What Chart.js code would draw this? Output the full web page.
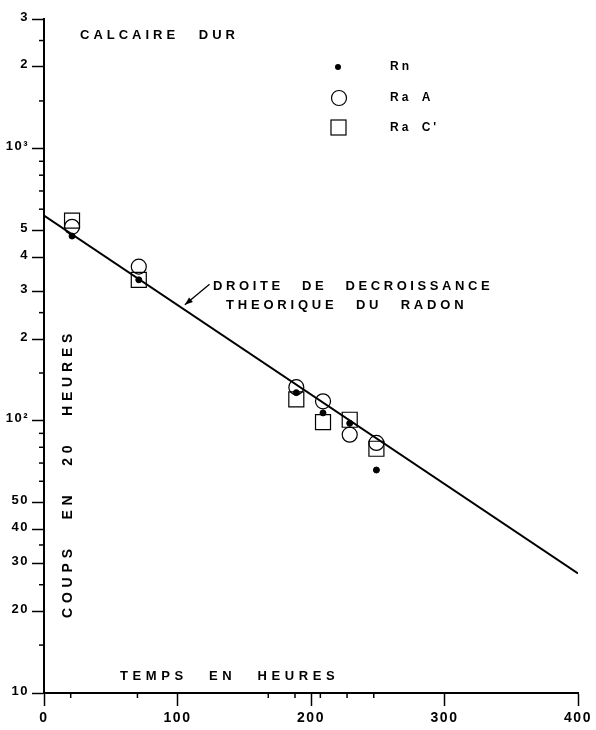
<!DOCTYPE html>
<html>
<head>
<meta charset="utf-8">
<script src="https://cdn.jsdelivr.net/npm/chart.js@4.4.1/dist/chart.umd.min.js"></script>
<style>
html,body{margin:0;padding:0;background:#fff;}
#wrap{width:596px;height:730px;}
</style>
</head>
<body>
<div id="wrap"><canvas id="c" width="596" height="730"></canvas></div>
<script>
// Radon decay measurements - hard limestone

const HOURS=[21,71,189,209,229,249];
const RN=[478,330,127,107,98,66];
const RA_A=[517,369,133,118,89,83];
const RA_C=[545,330,120,99,101,79];
const LINE_HOURS=[0,400];
const LINE_COUNTS=[568,27.5];

const X_TICKS=[0,20,70,100,168,188,200,207,227,247,300,400];
const X_LABELS=['0','','','100','','','200','','','','300','400'];
const Y_TICKS=[10,15,20,25,30,35,40,50,60,70,80,90,100,150,200,250,300,400,500,600,700,800,900,1000,1500,2000,2500,3000];
const Y_LABELS=['10','','20','','30','','40','50','','','','','10²','','2','','3','4','5','','','','','10³','','2','','3'];

const FONT='"Liberation Sans", Arial, sans-serif';
Chart.defaults.font.family=FONT;
Chart.defaults.color='#000';

function spaced(ctx,text,x,y,size,ls,ws){
  ctx.font='bold '+size+'px '+FONT;
  ctx.letterSpacing=ls+'px';
  ctx.wordSpacing=ws+'px';
  ctx.textAlign='left';ctx.textBaseline='middle';
  ctx.fillText(text,x,y);
}

const spacing={id:'spacing',
  beforeLayout(chart){chart.ctx.letterSpacing='1.5px';},
  beforeDraw(chart){chart.ctx.letterSpacing='1.5px';}
};

const decor={id:'decor',
  afterDraw(chart){
    const ctx=chart.ctx,xs=chart.scales.x,ys=chart.scales.y;
    ctx.save();
    ctx.strokeStyle='#000';ctx.fillStyle='#000';ctx.lineWidth=1.5;
    // minor tick marks
    xs.ticks.forEach(t=>{if(t.label!=='')return;const px=xs.getPixelForValue(t.value);
      ctx.beginPath();ctx.moveTo(px,ys.bottom);ctx.lineTo(px,ys.bottom+5);ctx.stroke();});
    ys.ticks.forEach(t=>{if(t.label!=='')return;const py=ys.getPixelForValue(t.value);
      ctx.beginPath();ctx.moveTo(xs.left,py);ctx.lineTo(xs.left-5,py);ctx.stroke();});
    // texts
    spaced(ctx,'CALCAIRE DUR',80,35,13,4,12);
    spaced(ctx,'DROITE DE DECROISSANCE',213,286,13,3.6,11);
    spaced(ctx,'THEORIQUE DU RADON',226,305,13,3.8,11);
    spaced(ctx,'TEMPS EN HEURES',120,676,13,4.6,13);
    ctx.save();ctx.translate(68,618);ctx.rotate(-Math.PI/2);
    spaced(ctx,'COUPS EN 20 HEURES',0,0,14,4.8,16);
    ctx.restore();
    // arrow
    const x0=xs.getPixelForValue(124),y0=ys.getPixelForValue(318);
    const x1=xs.getPixelForValue(105.5),y1=ys.getPixelForValue(267);
    ctx.lineWidth=1.3;ctx.beginPath();ctx.moveTo(x0,y0);ctx.lineTo(x1,y1);ctx.stroke();
    const a=Math.atan2(y1-y0,x1-x0);
    ctx.beginPath();ctx.moveTo(x1,y1);
    ctx.lineTo(x1-8*Math.cos(a)+3*Math.sin(a),y1-8*Math.sin(a)-3*Math.cos(a));
    ctx.lineTo(x1-8*Math.cos(a)-3*Math.sin(a),y1-8*Math.sin(a)+3*Math.cos(a));
    ctx.closePath();ctx.fill();
    // legend
    ctx.lineWidth=1.2;
    ctx.beginPath();ctx.arc(338,67,3,0,Math.PI*2);ctx.fill();
    ctx.beginPath();ctx.arc(339,98,7.5,0,Math.PI*2);ctx.stroke();
    ctx.strokeRect(331,120,15,15);
    spaced(ctx,'Rn',390,67,12,3,4);
    spaced(ctx,'Ra A',390,98,12,3,4);
    spaced(ctx,"Ra C'",390,128,12,3,4);
    ctx.restore();
  }
};

const pts=ys=>HOURS.map((h,i)=>({x:h,y:ys[i]}));

new Chart(document.getElementById('c'),{
  data:{datasets:[
    {type:'line',data:LINE_HOURS.map((h,i)=>({x:h,y:LINE_COUNTS[i]})),borderColor:'#000',borderWidth:2,pointRadius:0,fill:false,tension:0},
    {type:'scatter',data:pts(RN),pointStyle:'circle',pointRadius:3,backgroundColor:'#000',borderColor:'#000',borderWidth:1},
    {type:'scatter',data:pts(RA_A),pointStyle:'circle',pointRadius:7.5,backgroundColor:'rgba(0,0,0,0)',borderColor:'#000',borderWidth:1.2},
    {type:'scatter',data:pts(RA_C),pointStyle:'rect',pointRadius:10.6,backgroundColor:'rgba(0,0,0,0)',borderColor:'#000',borderWidth:1.2}
  ]},
  options:{responsive:false,devicePixelRatio:1,animation:false,
    layout:{padding:{top:19,right:18,left:0,bottom:0}},
    plugins:{legend:{display:false},tooltip:{enabled:false}},
    scales:{
      x:{type:'linear',position:'bottom',min:0,max:400,
        afterBuildTicks:s=>{s.ticks=X_TICKS.map(v=>({value:v}));},
        afterFit:s=>{s.height=37;},
        ticks:{autoSkip:false,maxRotation:0,padding:4,font:{size:14,weight:'bold'},callback:(v,i)=>X_LABELS[i]},
        grid:{drawOnChartArea:false,drawTicks:true,tickLength:13,tickWidth:1.5,
          tickColor:c=>c.tick&&c.tick.label!==''?'#000':'rgba(0,0,0,0)'},
        border:{display:true,color:'#000',width:2}},
      y:{type:'logarithmic',min:10,max:3000,
        afterBuildTicks:s=>{s.ticks=Y_TICKS.map(v=>({value:v}));},
        afterFit:s=>{s.width=44;},
        ticks:{autoSkip:false,padding:3,labelOffset:-2,font:{size:13,weight:'bold'},callback:(v,i)=>Y_LABELS[i]},
        grid:{drawOnChartArea:false,drawTicks:true,tickLength:12,tickWidth:1.5,
          tickColor:c=>c.tick&&c.tick.label!==''?'#000':'rgba(0,0,0,0)'},
        border:{display:true,color:'#000',width:2}}
    }
  },
  plugins:[spacing,decor]
});
</script>
</body>
</html>
